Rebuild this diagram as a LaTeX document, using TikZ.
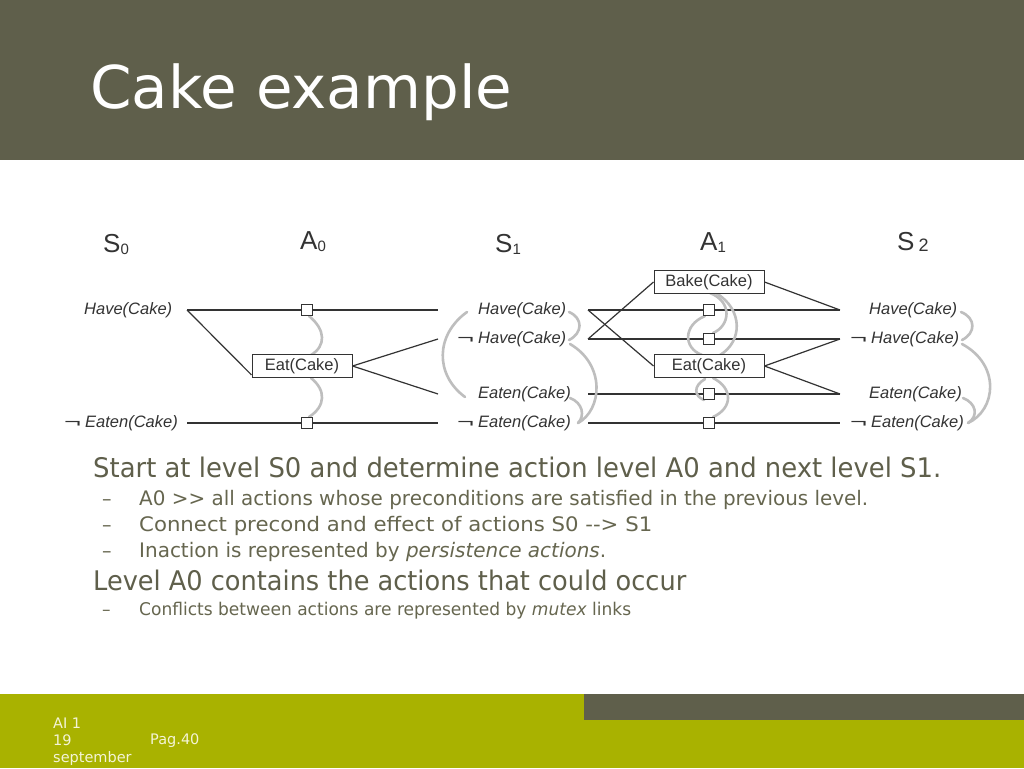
\documentclass[tikz,border=0pt]{standalone}
\usepackage{fontspec}
\usepackage{graphicx}
\setmainfont{DejaVu Sans}
\newfontfamily\labfont{Liberation Sans}
\definecolor{bar}{HTML}{5F5F4B}
\definecolor{lime}{HTML}{A9B200}
\definecolor{ink}{HTML}{333333}
\definecolor{mut}{HTML}{BEBEBE}
\definecolor{bodyc}{HTML}{5F5F4B}
\definecolor{subc}{HTML}{66664F}
\definecolor{foot}{HTML}{F4F4D6}
\newcommand{\fitw}[2]{\resizebox{#1}{\height}{#2}}
\newcommand{\negsym}{\makebox[21pt][l]{\upshape\resizebox{17pt}{\height}{¬}}}
\begin{document}
\begin{tikzpicture}[x=1pt,y=-1pt,
  lbl/.style={font=\labfont\fontsize{16.5}{16.5}\selectfont\itshape, text=ink, inner sep=0pt, anchor=west},
  act/.style={draw=ink, line width=1pt, fill=white, font=\labfont\fontsize{16.5}{16.5}\selectfont, text=ink, minimum width=100pt, minimum height=23pt, inner sep=0pt},
  pers/.style={draw=ink, line width=1pt, fill=white, minimum size=11pt, inner sep=0pt},
  link/.style={draw=ink, line width=1.2pt},
  mtx/.style={draw=mut, line width=2.6pt, line cap=round},
  hdr/.style={font=\labfont\fontsize{26}{26}\selectfont, text=ink, inner sep=0pt, anchor=base west},
  bigline/.style={font=\fontsize{27}{27}\selectfont, text=bodyc, inner sep=0pt, anchor=base west},
  subline/.style={font=\fontsize{20}{20}\selectfont, text=subc, inner sep=0pt, anchor=base west},
  dashmark/.style={font=\fontsize{19}{19}\selectfont, text=subc, inner sep=0pt, anchor=base west},
  foottext/.style={font=\fontsize{14.5}{14.5}\selectfont, text=foot, inner sep=0pt, anchor=base west},
]
\useasboundingbox (0,0) rectangle (1024,768);
% backgrounds
\fill[white] (0,0) rectangle (1024,768);
\fill[bar] (0,0) rectangle (1024,160);
\fill[lime] (0,694) rectangle (1024,768);
\fill[bar] (584,694) rectangle (1024,720);

% title
\node[anchor=base west, text=white, inner sep=0pt, font=\fontsize{59}{59}\selectfont] (title) at (90,108) {\fitw{422pt}{Cake example}};

% headers
\node[hdr] (hS0) at (103,252) {S\raisebox{-2pt}{\fontsize{15}{15}\selectfont 0}};
\node[hdr] (hA0) at (300,249) {A\raisebox{-2pt}{\fontsize{15}{15}\selectfont 0}};
\node[hdr] (hS1) at (495,252) {S\raisebox{-2pt}{\fontsize{15}{15}\selectfont 1}};
\node[hdr] (hA1) at (700,250) {A\raisebox{-2pt}{\fontsize{15}{15}\selectfont 1}};
\node[hdr] (hS2) at (897,250) {S\hspace{4pt}\raisebox{-1pt}{\fontsize{18}{18}\selectfont 2}};

% state labels
\node[lbl] (s0h) at (84,310) {Have(Cake)};
\node[lbl] (s0ne) at (64,423) {\negsym Eaten(Cake)};
\node[lbl] (s1h) at (478,310) {Have(Cake)};
\node[lbl] (s1nh) at (457,339) {\negsym Have(Cake)};
\node[lbl] (s1e) at (478,394) {Eaten(Cake)};
\node[lbl] (s1ne) at (457,423) {\negsym Eaten(Cake)};
\node[lbl] (s2h) at (869,310) {Have(Cake)};
\node[lbl] (s2nh) at (850,339) {\negsym Have(Cake)};
\node[lbl] (s2e) at (869,394) {Eaten(Cake)};
\node[lbl] (s2ne) at (850,423) {\negsym Eaten(Cake)};

% ports
\coordinate (p0h) at (187,310);
\coordinate (p0ne) at (187,423);
\coordinate (q1h) at (438,310);
\coordinate (q1nh) at (438,339);
\coordinate (q1e) at (438,394);
\coordinate (q1ne) at (438,423);
\coordinate (p1h) at (588,310);
\coordinate (p1nh) at (588,339);
\coordinate (p1e) at (588,394);
\coordinate (p1ne) at (588,423);
\coordinate (q2h) at (840,310);
\coordinate (q2nh) at (840,339);
\coordinate (q2e) at (840,394);
\coordinate (q2ne) at (840,423);

% action node outlines (named first, boxes drawn on top later)
\path (302,366) node[act, draw=none, fill=none, opacity=0] (eat0) {Eat(Cake)};
\path (709,282) node[act, minimum width=110pt, draw=none, fill=none, opacity=0] (bake) {Bake(Cake)};
\path (709,366) node[act, minimum width=110pt, draw=none, fill=none, opacity=0] (eat1) {Eat(Cake)};
\coordinate (a0h) at (307,310);
\coordinate (a0ne) at (307,423);
\coordinate (a1h) at (709,310);
\coordinate (a1nh) at (709,339);
\coordinate (a1e) at (709,394);
\coordinate (a1ne) at (709,423);

% links level A0
\draw[link] (p0h) -- (a0h) -- (q1h);
\draw[link] (p0ne) -- (a0ne) -- (q1ne);
\draw[link] (p0h) -- (eat0.190);
\draw[link] (eat0.east) -- (q1nh);
\draw[link] (eat0.east) -- (q1e);

% links level A1
\draw[link] (p1h) -- (a1h) -- (q2h);
\draw[link] (p1nh) -- (a1nh) -- (q2nh);
\draw[link] (p1e) -- (a1e) -- (q2e);
\draw[link] (p1ne) -- (a1ne) -- (q2ne);
\draw[link] (p1h) -- (eat1.west);
\draw[link] (p1nh) -- (bake.west);
\draw[link] (bake.east) -- (q2h);
\draw[link] (eat1.east) -- (q2nh);
\draw[link] (eat1.east) -- (q2e);

% mutex arcs
\draw[mtx] (309,316) .. controls (326,330) and (326,346) .. (311,355);
\draw[mtx] (311,378) .. controls (326,390) and (326,406) .. (309,417);
\draw[mtx] (467,312) .. controls (435,335) and (435,375) .. (465,397);
\draw[mtx] (569,312) .. controls (583,318) and (583,333) .. (569,340);
\draw[mtx] (570,344) .. controls (606,365) and (602,410) .. (578,423);
\draw[mtx] (570,398) .. controls (583,403) and (585,416) .. (578,423);
\draw[mtx] (716,293) .. controls (744,310) and (742,342) .. (720,355);
\draw[mtx] (710,293) .. controls (733,302) and (730,326) .. (713,333);
\draw[mtx] (705,316) .. controls (683,325) and (683,348) .. (702,355);
\draw[mtx] (713,378) .. controls (733,388) and (733,408) .. (713,417);
\draw[mtx] (705,379) .. controls (693,386) and (694,396) .. (704,400);
\draw[mtx] (961,312) .. controls (976,318) and (976,333) .. (962,340);
\draw[mtx] (962,344) .. controls (1001,365) and (996,410) .. (968,423);
\draw[mtx] (963,398) .. controls (976,403) and (979,416) .. (968,423);

% persistence squares
\node[pers] (sq0h) at (a0h) {};
\node[pers] (sq0ne) at (a0ne) {};
\node[pers] (sq1h) at (a1h) {};
\node[pers] (sq1nh) at (a1nh) {};
\node[pers] (sq1e) at (a1e) {};
\node[pers] (sq1ne) at (a1ne) {};

% action boxes
\node[act] (eat0b) at (eat0) {Eat(Cake)};
\node[act, minimum width=110pt] (bakeb) at (bake) {Bake(Cake)};
\node[act, minimum width=110pt] (eat1b) at (eat1) {Eat(Cake)};

% body text
\node[bigline] (l1) at (93,477) {\fitw{848pt}{Start at level S0 and determine action level A0 and next level S1.}};
\node[dashmark] (d1) at (102,505) {–};
\node[subline] (l2) at (139,505) {\fitw{729pt}{A0 >{}> all actions whose preconditions are satisfied in the previous level.}};
\node[dashmark] (d2) at (102,531) {–};
\node[subline] (l3) at (139,531) {\fitw{513pt}{Connect precond and effect of actions S0 -{}-{}> S1}};
\node[dashmark] (d3) at (102,557) {–};
\node[subline] (l4) at (139,557) {\fitw{467pt}{Inaction is represented by \textit{persistence actions}.}};
\node[bigline] (l5) at (93,590) {\fitw{593pt}{Level A0 contains the actions that could occur}};
\node[dashmark, font=\fontsize{17}{17}\selectfont] (d4) at (102,615) {–};
\node[subline, font=\fontsize{17.5}{17.5}\selectfont] (l6) at (139,615) {\fitw{492pt}{Conflicts between actions are represented by \textit{mutex} links}};

% footer
\node[foottext] (f1) at (53,728) {AI 1};
\node[foottext] (f2) at (53,745) {19};
\node[foottext] (f3) at (53,762) {september};
\node[foottext] (f4) at (150,744) {Pag.40};
\end{tikzpicture}
\end{document}
